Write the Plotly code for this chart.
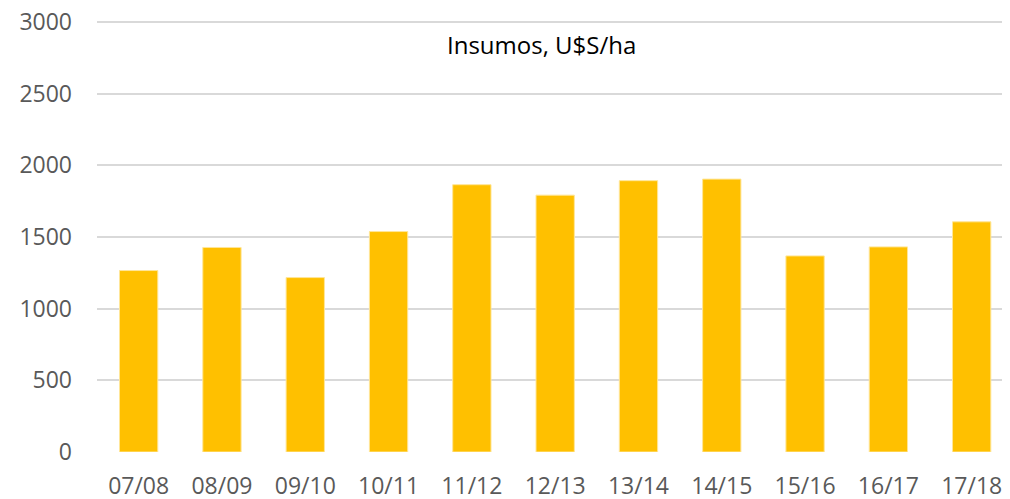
import plotly.graph_objects as go

categories = ["07/08", "08/09", "09/10", "10/11", "11/12", "12/13", "13/14", "14/15", "15/16", "16/17", "17/18"]
insumos = [1266, 1427, 1217, 1538, 1865, 1792, 1893, 1904, 1368, 1431, 1606]
title_text = "Insumos, U$S/ha"

FONT = "Open Sans"
OFF = 8  # page body margin

fig = go.Figure()
fig.add_trace(go.Bar(
    x=categories, y=insumos,
    marker=dict(color="#FFC000", line=dict(color="#FFE699", width=1)),
    width=0.46,
))

fig.update_layout(
    width=1010, height=499,
    margin=dict(l=97 - OFF, r=OFF, t=20 - OFF, b=55, autoexpand=False),
    paper_bgcolor="white", plot_bgcolor="white",
    showlegend=False,
    font=dict(family=FONT, size=23, color="#595959"),
    xaxis=dict(
        type="category", range=[-0.5, 10.46], automargin=False,
        showgrid=False, zeroline=False, showline=False,
        ticks="", tickfont=dict(size=23, color="#595959"),
        ticklabelstandoff=18, ticklabeloverflow="allow",
    ),
    yaxis=dict(
        range=[0, 3014], dtick=500, tick0=0, automargin=False,
        showgrid=True, gridcolor="#D9D9D9", gridwidth=1.5,
        zeroline=False, showline=False, ticks="",
        ticklabelstandoff=24, ticklabeloverflow="allow",
        tickfont=dict(size=23, color="#595959"),
    ),
    annotations=[dict(
        text=title_text, xref="paper", yref="paper",
        x=(541 - 97) / 913, y=(452 - 44) / 432,
        xanchor="center", yanchor="middle", showarrow=False,
        font=dict(family=FONT, size=24, color="#000000"),
    )],
)

fig.write_html("out.html")
